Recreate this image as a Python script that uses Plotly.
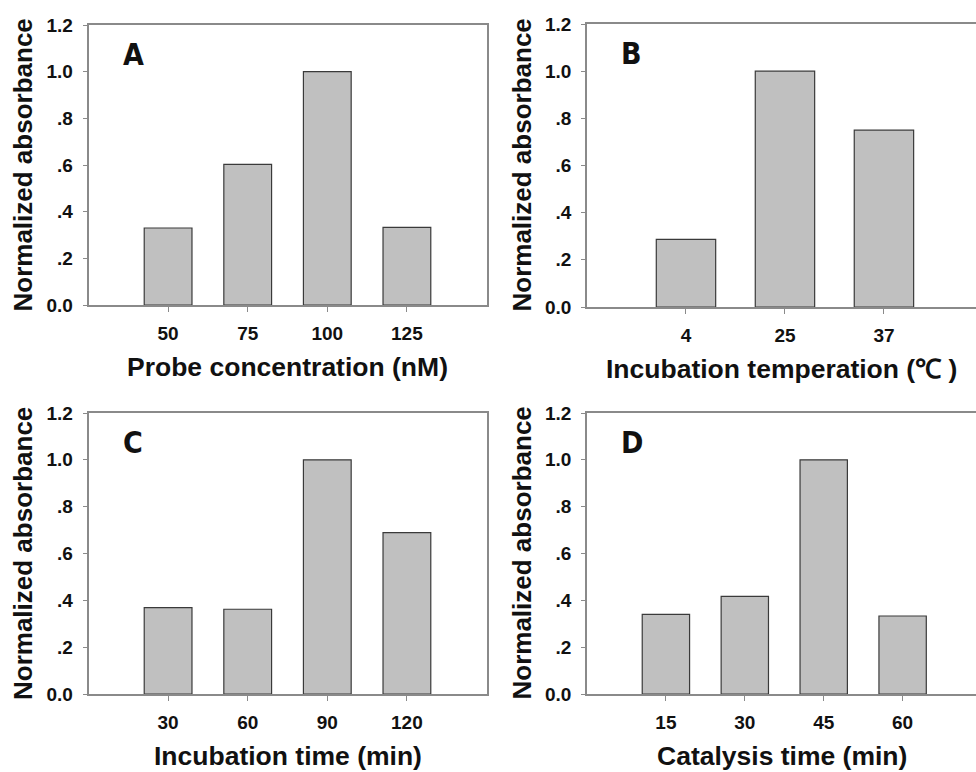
import plotly.graph_objects as go

W, H = 976, 772

# ---- data ----
cats_a = ["50", "75", "100", "125"]
vals_a = [0.33, 0.603, 1.0, 0.333]
title_a = "Probe concentration (nM)"

cats_b = ["4", "25", "37"]
vals_b = [0.287, 1.0, 0.75]
title_b = "Incubation temperation (\u2103 )"

cats_c = ["30", "60", "90", "120"]
vals_c = [0.369, 0.362, 1.0, 0.689]
title_c = "Incubation time (min)"

cats_d = ["15", "30", "45", "60"]
vals_d = [0.34, 0.417, 1.0, 0.333]
title_d = "Catalysis time (min)"

y_ticks = [0.0, 0.2, 0.4, 0.6, 0.8, 1.0, 1.2]
y_tick_text = ["0.0", ".2", ".4", ".6", ".8", "1.0", "1.2"]
y_title = "Normalized absorbance"
letters = ["A", "B", "C", "D"]

FONT = "Liberation Sans, Arial, sans-serif"
LETTER_FONT = "Liberation Sans Narrow, Arial Narrow, DejaVu Sans Condensed, " + FONT
AXIS_COL = "#8a8a8a"

def px_x(v):
    return v / W

def px_y(v):
    return 1 - v / H

panels = [
    dict(cats=cats_a, vals=vals_a, title=title_a, l=88.5, r=486.5, t=25, b=305, xr=4.0, right_line=True),
    dict(cats=cats_b, vals=vals_b, title=title_b, l=587, r=976, t=24, b=307, xr=2.93, right_line=False),
    dict(cats=cats_c, vals=vals_c, title=title_c, l=88.5, r=486.5, t=413, b=694, xr=4.0, right_line=True),
    dict(cats=cats_d, vals=vals_d, title=title_d, l=587, r=976, t=413, b=694, xr=3.93, right_line=False),
]

fig = go.Figure()
annotations = []
for i, p in enumerate(panels):
    n = i + 1
    xa = "x" if n == 1 else f"x{n}"
    ya = "y" if n == 1 else f"y{n}"
    fig.add_trace(go.Bar(
        x=list(range(len(p["cats"]))), y=p["vals"],
        xaxis=xa, yaxis=ya, width=0.6,
        marker=dict(color="#c0c0c0", line=dict(color="#3a3a3a", width=1.2)),
        showlegend=False, hoverinfo="skip",
    ))
    xkey = "xaxis" if n == 1 else f"xaxis{n}"
    ykey = "yaxis" if n == 1 else f"yaxis{n}"
    fig.layout[xkey] = dict(
        domain=[px_x(p["l"]), px_x(p["r"])],
        anchor=ya, range=[-1, p["xr"]], automargin=False,
        tickmode="array", tickvals=list(range(len(p["cats"]))),
        ticktext=[f"<b>{c}</b>" for c in p["cats"]],
        ticks="outside", ticklen=5, tickwidth=1.2, tickcolor=AXIS_COL,
        showline=True, linecolor=AXIS_COL, linewidth=1.6,
        mirror=True, showgrid=False, zeroline=False,
        tickfont=dict(family=FONT, size=19, color="#111"),
        ticklabelstandoff=5,
    )
    fig.layout[ykey] = dict(
        domain=[px_y(p["b"]), px_y(p["t"])],
        anchor=xa, range=[0, 1.2], automargin=False,
        tickmode="array", tickvals=y_ticks,
        ticktext=[f"<b>{t}</b>" for t in y_tick_text],
        ticks="outside", ticklen=4, tickwidth=1.2, tickcolor=AXIS_COL,
        showline=True, linecolor=AXIS_COL, linewidth=1.6,
        mirror=p["right_line"], showgrid=False, zeroline=False,
        tickfont=dict(family=FONT, size=19, color="#111"),
        ticklabelstandoff=6,
    )
    cx = (p["l"] + min(p["r"], 976)) / 2
    annotations.append(dict(
        text=f"<b>{p['title']}</b>", xref="paper", yref="paper",
        x=px_x(cx), y=px_y(p["b"] + 62), xanchor="center", yanchor="middle",
        showarrow=False, font=dict(family=FONT, size=26.5, color="#111"),
    ))
    annotations.append(dict(
        text=f"<b>{y_title}</b>", xref="paper", yref="paper",
        x=px_x(p["l"] - 66), y=px_y((p["t"] + p["b"]) / 2),
        xanchor="center", yanchor="middle", textangle=-90,
        showarrow=False, font=dict(family=FONT, size=26, color="#111"),
    ))
    annotations.append(dict(
        text=f"<b>{letters[i]}</b>", xref="paper", yref="paper",
        x=px_x(p["l"] + 32), y=px_y(p["t"] + 29), xanchor="left", yanchor="middle",
        showarrow=False,
        font=dict(family=LETTER_FONT, size=30, color="#111"),
    ))

fig.update_layout(
    width=W, height=H, margin=dict(l=0, r=0, t=0, b=0, autoexpand=False),
    paper_bgcolor="white", plot_bgcolor="white",
    annotations=annotations, bargap=0.4,
)

fig.write_html(
    "out.html",
    config={"displayModeBar": False},
    post_script="document.body.style.margin='0';document.body.style.overflow='hidden';",
)
